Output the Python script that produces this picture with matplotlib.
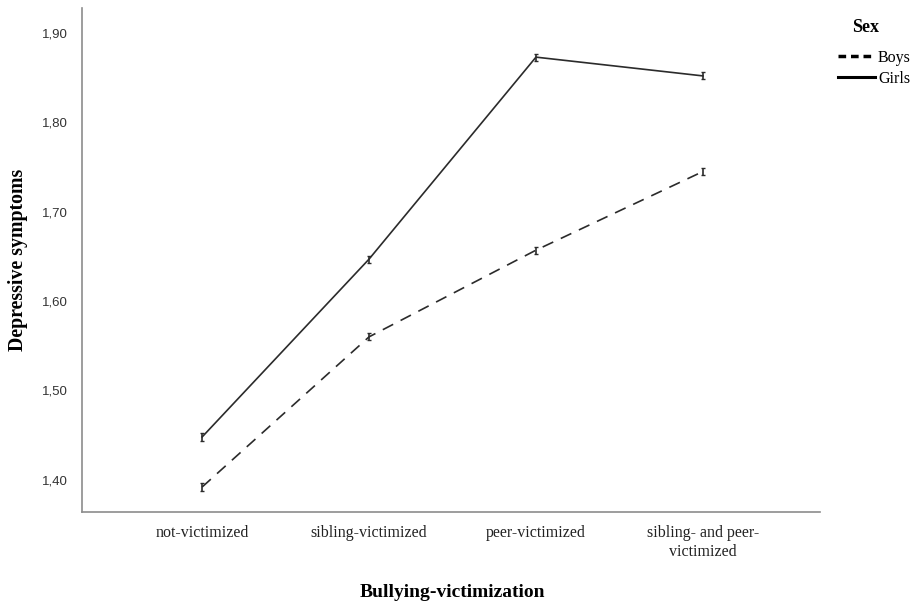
import matplotlib
matplotlib.use("Agg")
import matplotlib.pyplot as plt
from matplotlib.lines import Line2D

categories = ["not-victimized", "sibling-victimized", "peer-victimized", "sibling- and peer-\nvictimized"]
boys = [1.392, 1.560, 1.657, 1.745]
girls = [1.448, 1.647, 1.873, 1.852]
err = 0.004
yticks = [1.40, 1.50, 1.60, 1.70, 1.80, 1.90]
ytick_labels = ["1,40", "1,50", "1,60", "1,70", "1,80", "1,90"]

fig = plt.figure(figsize=(9.2, 6.05), dpi=100)
ax = fig.add_axes([0.0891, 0.1537, 0.8019, 0.8331])

x = list(range(len(categories)))
line_color = "#2b2b2b"
ax.errorbar(x, girls, yerr=err, color=line_color, lw=1.2, capsize=1.5, elinewidth=1.2, capthick=1.0)
ax.errorbar(x, boys, yerr=err, color=line_color, lw=1.2, capsize=1.5, elinewidth=1.2, capthick=1.0,
            linestyle=(0, (7, 5)))

ax.set_xlim(-0.72, 3.70)
ax.set_ylim(1.364, 1.928)
ax.set_xticks(x)
ax.set_xticklabels(categories, fontfamily="Liberation Serif", fontsize=11.5, color="#222222",
                   linespacing=1.3)
ax.set_yticks(yticks)
ax.set_yticklabels(ytick_labels, fontfamily="Liberation Sans", fontsize=9.5, color="#333333")
ax.tick_params(axis="x", length=0, pad=9)
ax.tick_params(axis="y", length=0, pad=10)

for s in ["top", "right"]:
    ax.spines[s].set_visible(False)
for s in ["left", "bottom"]:
    ax.spines[s].set_color("#8c8c8c")
    ax.spines[s].set_linewidth(1.2)

ax.set_ylabel("Depressive symptoms", fontfamily="Liberation Serif", fontweight="bold", fontsize=14.3)
ax.yaxis.set_label_coords(-0.087, 0.5)
ax.yaxis.label.set_va("center")
ax.set_xlabel("Bullying-victimization", fontfamily="Liberation Serif", fontweight="bold", fontsize=14)
ax.xaxis.set_label_coords(0.502, -0.159)
ax.xaxis.label.set_va("center")

fig.text(866 / 920, 1 - 27 / 605, "Sex", ha="center", va="center",
         fontfamily="Liberation Serif", fontweight="bold", fontsize=13)

handles = [Line2D([], [], color="black", lw=2.5, linestyle=(0, (2.2, 1.4))),
           Line2D([], [], color="black", lw=2.2)]
leg = fig.legend(handles, ["Boys", "Girls"], loc="upper left",
                 bbox_to_anchor=(838 / 920, 1 - 50 / 605), frameon=False,
                 prop={"family": "Liberation Serif", "size": 11.5},
                 handlelength=2.3, handletextpad=0.2, labelspacing=0.3, borderaxespad=0,
                 borderpad=0)

fig.savefig("out.png", dpi=100)
